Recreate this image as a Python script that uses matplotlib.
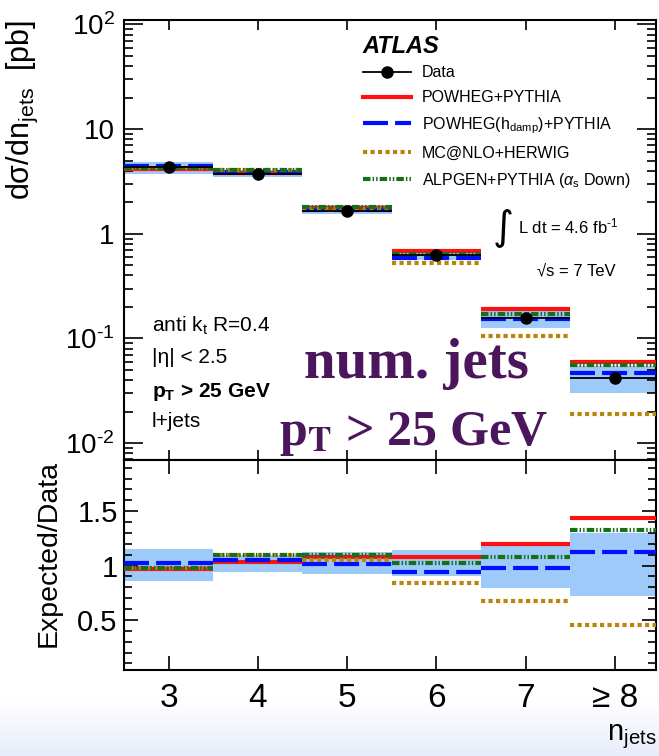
import numpy as np
import matplotlib
matplotlib.use("Agg")
import matplotlib.pyplot as plt
from matplotlib import font_manager
from matplotlib.lines import Line2D
from matplotlib.colors import LinearSegmentedColormap
from matplotlib.ticker import FixedLocator, FixedFormatter, MultipleLocator, LogLocator, NullFormatter

# values
n_jets = [3, 4, 5, 6, 7, 8]
tick_labels = ['3', '4', '5', '6', '7', '≥ 8']

data = [4.3, 3.7, 1.65, 0.63, 0.158, 0.042]
band_up = [4.85, 4.1, 1.9, 0.72, 0.191, 0.055]
band_down = [3.72, 3.46, 1.53, 0.56, 0.125, 0.030]
powheg = [4.17, 3.81, 1.78, 0.68, 0.19, 0.060]
hdamp = [4.39, 3.89, 1.67, 0.59, 0.155, 0.047]
mcatnlo = [4.21, 4.07, 1.73, 0.53, 0.106, 0.019]
alpgen = [4.21, 4.07, 1.82, 0.64, 0.171, 0.056]

ratio_band_up = [1.15, 1.10, 1.12, 1.14, 1.21, 1.30]
ratio_band_down = [0.86, 0.94, 0.92, 0.90, 0.79, 0.72]
ratio_powheg = [0.97, 1.03, 1.08, 1.08, 1.20, 1.44]
ratio_hdamp = [1.02, 1.05, 1.01, 0.94, 0.98, 1.12]
ratio_mcatnlo = [0.98, 1.10, 1.05, 0.84, 0.67, 0.45]
ratio_alpgen = [0.98, 1.10, 1.10, 1.02, 1.08, 1.33]

names = {f.name for f in font_manager.fontManager.ttflist}
sans = 'Liberation Sans Narrow' if 'Liberation Sans Narrow' in names else 'Liberation Sans'

plt.rcParams['font.family'] = [sans, 'Liberation Sans', 'DejaVu Sans']
plt.rcParams['mathtext.fontset'] = 'custom'
plt.rcParams['mathtext.rm'] = sans
plt.rcParams['mathtext.it'] = sans + ':italic'
plt.rcParams['mathtext.bf'] = sans + ':bold'

band_color = '#9dcaf9'
purple = '#4b165c'
styles = [
    # values, ratio, colour, linestyle, zorder
    (powheg, ratio_powheg, '#ff1010', 'solid', 3),
    (hdamp, ratio_hdamp, '#0010ff', (0, (6, 1.7)), 4),
    (mcatnlo, ratio_mcatnlo, '#b8860b', (0, (1, 0.8)), 5),
    (alpgen, ratio_alpgen, '#1a6e1a', (0, (1.8, 0.5, 0.35, 0.5, 0.35, 0.5)), 6),
]
x = np.array(n_jets)

fig = plt.figure(figsize=(6.59, 7.56), dpi=100)

# light gradient at the bottom of the slide
bg = fig.add_axes([0, 0, 1, 0.075], zorder=-10)
bg.imshow(np.linspace(0, 1, 50).reshape(-1, 1), aspect='auto',
          cmap=LinearSegmentedColormap.from_list('bg', ['white', '#e8edfa']))
bg.axis('off')

ax = fig.add_axes([0.188, 0.3915, 0.8075, 0.582])
rax = fig.add_axes([0.188, 0.1138, 0.8075, 0.2777], sharex=ax)

# main panel
ax.bar(x, np.subtract(band_up, band_down), bottom=band_down, width=1,
       color=band_color, lw=0, zorder=1)
for vals, _, col, ls, z in styles:
    ax.hlines(vals, x - 0.5, x + 0.5, colors=col, linestyles=[ls], lw=3, zorder=z)
ax.errorbar(x, data, xerr=0.5, fmt='o', color='k', ms=8, elinewidth=1.3,
            capsize=0, zorder=10)

ax.set_yscale('log')
ax.set_ylim(0.0069, 110)
ax.set_xlim(2.5, 8.46)
ax.yaxis.set_major_locator(FixedLocator([0.01, 0.1, 1, 10, 100]))
ax.yaxis.set_major_formatter(FixedFormatter(['$10^{‐2}$', '$10^{‐1}$', '1', '10', '$10^{2}$']))
ax.yaxis.set_minor_locator(LogLocator(base=10, subs=np.arange(2, 10), numticks=20))
ax.yaxis.set_minor_formatter(NullFormatter())
ax.set_xticks(n_jets)
ax.tick_params(axis='both', which='both', direction='in', top=True, right=True,
               labelbottom=False, width=1.2)
ax.tick_params(axis='y', which='major', length=13.5, labelsize=20, pad=6.5)
ax.tick_params(axis='y', which='minor', length=6.5)
ax.tick_params(axis='x', which='major', length=7)
ax.tick_params(axis='x', which='minor', length=0)

ax.set_ylabel('dσ/dn$_{\\rm jets}$  [pb]', loc='top', fontsize=22,
              fontfamily=['Liberation Sans', 'DejaVu Sans'])
ax.yaxis.set_label_coords(-0.158, 1.0)

# ratio panel
rax.bar(x, np.subtract(ratio_band_up, ratio_band_down), bottom=ratio_band_down,
        width=1, color=band_color, lw=0, zorder=1)
for _, rvals, col, ls, z in styles:
    rax.hlines(rvals, x - 0.5, x + 0.5, colors=col, linestyles=[ls], lw=3, zorder=z)
rax.set_ylim(0.04, 1.97)
rax.set_yticks([0.5, 1, 1.5])
rax.set_yticklabels(['0.5', '1', '1.5'])
rax.yaxis.set_minor_locator(MultipleLocator(0.1))
rax.set_xticks(n_jets)
rax.set_xticklabels(tick_labels)
rax.tick_params(axis='both', which='both', direction='in', top=True, right=True, width=1.2)
rax.tick_params(axis='y', which='major', length=10, labelsize=21, pad=4.5)
rax.tick_params(axis='y', which='minor', length=5.8)
rax.tick_params(axis='x', which='major', length=10, labelsize=24, pad=9.5)
rax.tick_params(axis='x', which='minor', length=0)
rax.set_ylabel('Expected/Data', loc='top', fontsize=20.5,
               fontfamily=['Liberation Sans', 'DejaVu Sans'])
rax.yaxis.set_label_coords(-0.117, 1.0)
rax.set_xlabel('n$_{\\rm jets}$', loc='right', fontsize=21)
rax.xaxis.set_label_coords(1.0, -0.25)

for a in (ax, rax):
    for s in a.spines.values():
        s.set_linewidth(1.5)

# legend
handles = [
    Line2D([], [], color='k', marker='o', ms=8, lw=1.3),
    Line2D([], [], color=styles[0][2], lw=3, ls=styles[0][3]),
    Line2D([], [], color=styles[1][2], lw=3, ls=styles[1][3]),
    Line2D([], [], color=styles[2][2], lw=3, ls=styles[2][3]),
    Line2D([], [], color=styles[3][2], lw=3, ls=styles[3][3]),
]
labels = ['Data', 'POWHEG+PYTHIA', 'POWHEG(h$_{\\rm damp}$)+PYTHIA',
          'MC@NLO+HERWIG', 'ALPGEN+PYTHIA ($\\alpha_{\\rm s}$ Down)']
ax.legend(handles, labels, loc='upper left', bbox_to_anchor=(0.449, 0.897),
          frameon=False, fontsize=11.5, borderpad=0, borderaxespad=0,
          handlelength=3.0, handletextpad=0.7, labelspacing=0.62)

def axpos(px, py):
    return (px - 124) / 532, (460 - py) / 440

ax.text(*axpos(363, 53), 'ATLAS', transform=ax.transAxes, fontsize=17,
        fontweight='bold', fontstyle='italic', va='baseline')
ax.text(*axpos(503, 227), '∫', transform=ax.transAxes, fontsize=29,
        fontfamily='DejaVu Sans', ha='center', va='center')
ax.text(*axpos(518, 233), 'L dt = 4.6 fb$^{‐1}$', transform=ax.transAxes,
        fontsize=12, va='baseline')
ax.text(*axpos(537, 275), '√s = 7 TeV', transform=ax.transAxes,
        fontsize=12, va='baseline')

ax.text(*axpos(152, 332), 'anti k$_{\\rm t}$ R=0.4', transform=ax.transAxes,
        fontsize=15, va='baseline')
ax.text(*axpos(152, 363), '|η| < 2.5', transform=ax.transAxes,
        fontsize=15, va='baseline')
ax.text(*axpos(152, 397), 'p$_{\\mathbf{T}}$ > 25 GeV', transform=ax.transAxes,
        fontsize=15, fontweight='bold', va='baseline')
ax.text(*axpos(152, 427), 'l+jets', transform=ax.transAxes,
        fontsize=15, va='baseline')

# slide overlay text
ax.text(*axpos(416, 378), 'num. jets', transform=ax.transAxes, fontsize=41,
        fontfamily='Liberation Serif', fontweight='bold', color=purple,
        ha='center', va='baseline', zorder=20)
ax.text(*axpos(413, 445), 'p$_{\\mathbf{T}}$ > 25 GeV', transform=ax.transAxes,
        fontsize=36, fontfamily='Liberation Serif', fontweight='bold',
        math_fontfamily='stix', color=purple, ha='center', va='baseline', zorder=20)

fig.savefig('out.png', dpi=100)
